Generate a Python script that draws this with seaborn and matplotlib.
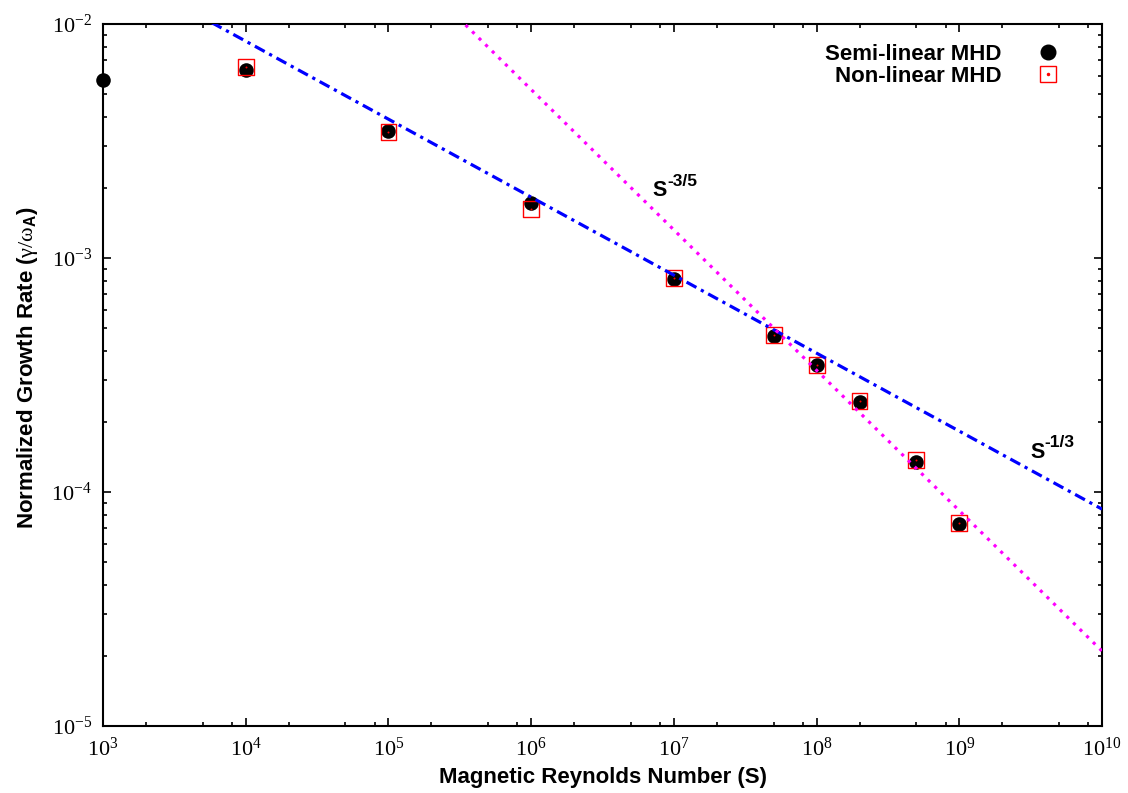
import matplotlib
matplotlib.use('Agg')
import matplotlib.pyplot as plt
import matplotlib.ticker as mticker
from matplotlib.lines import Line2D
from matplotlib.legend_handler import HandlerTuple
import numpy as np
import pandas as pd
import seaborn as sns

# semi-linear MHD runs
semi_S = [1e3, 1e4, 1e5, 1e6, 1e7, 5e7, 1e8, 2e8, 5e8, 1e9]
semi_rate = [5.77e-3, 6.35e-3, 3.49e-3, 1.72e-3, 8.13e-4, 4.64e-4, 3.49e-4, 2.43e-4, 1.34e-4, 7.3e-5]

# non-linear MHD runs
nonlin_S = [1e4, 1e5, 1e6, 1e7, 5e7, 1e8, 2e8, 5e8, 1e9]
nonlin_rate = [6.54e-3, 3.45e-3, 1.62e-3, 8.2e-4, 4.68e-4, 3.49e-4, 2.45e-4, 1.37e-4, 7.35e-5]

# scaling laws  rate = coef * S**expo
fit_coef = [0.182, 20.9]
fit_expo = [-1 / 3, -3 / 5]
fit_sup = ['-1/3', '-3/5']
fit_text_pos = [(3.13e9, 1.40e-4), (7.1e6, 1.84e-3)]

x_decades = [3, 10]
y_decades = [-5, -2]

sns.set_style('ticks')
plt.rcParams['font.family'] = ['Liberation Sans', 'DejaVu Sans']
plt.rcParams['text.color'] = 'black'
plt.rcParams['axes.labelcolor'] = 'black'
plt.rcParams['mathtext.fontset'] = 'custom'
plt.rcParams['mathtext.rm'] = 'Liberation Serif'
plt.rcParams['mathtext.it'] = 'Liberation Serif:italic'
plt.rcParams['mathtext.bf'] = 'Liberation Sans:bold'

fig = plt.figure(figsize=(11.28, 7.93), dpi=100)
ax = fig.add_axes([0.0913, 0.0845, 0.8857, 0.8852])

semi_df = pd.DataFrame({'S': semi_S, 'rate': semi_rate})
nonlin_df = pd.DataFrame({'S': nonlin_S, 'rate': nonlin_rate})

sns.scatterplot(data=semi_df, x='S', y='rate', ax=ax, marker='o', s=110,
                color='black', edgecolor='black', linewidth=0, clip_on=False, zorder=3)
sns.scatterplot(data=nonlin_df, x='S', y='rate', ax=ax, marker='s', s=130,
                facecolor='none', edgecolor='#ff0000', linewidth=1.0, clip_on=False, zorder=4)
sns.scatterplot(data=nonlin_df, x='S', y='rate', ax=ax, marker='o', s=2,
                color='#ff0000', linewidth=0, zorder=4)

S_line = np.logspace(x_decades[0], x_decades[1], 200)
line_styles = [dict(color='#0000ff', dashes=(3.5, 1.6, 1, 1.6)),
               dict(color='#ff00ff', dashes=(1, 1.9))]
for coef, expo, sty in zip(fit_coef, fit_expo, line_styles):
    fit_df = pd.DataFrame({'S': S_line, 'rate': coef * S_line ** expo})
    sns.lineplot(data=fit_df, x='S', y='rate', ax=ax, lw=2.3, zorder=5, **sty)

# S^{...} labels: base letter plus a raised exponent
for sup, (tx, ty) in zip(fit_sup, fit_text_pos):
    ax.text(tx, ty, 'S', fontsize=15.5, fontweight='bold', ha='left', va='baseline')
    ax.annotate(sup, (tx, ty), xytext=(10.5, 7.5), textcoords='offset points',
                fontsize=12.5, fontweight='bold', ha='left', va='baseline')

ax.set_xscale('log')
ax.set_yscale('log')
ax.set_xlim(10.0 ** x_decades[0], 10.0 ** x_decades[1])
ax.set_ylim(10.0 ** y_decades[0], 10.0 ** y_decades[1])

ax.xaxis.set_major_locator(mticker.LogLocator(base=10, numticks=20))
ax.xaxis.set_minor_locator(mticker.LogLocator(base=10, subs=(2, 5, 8), numticks=20))
ax.yaxis.set_major_locator(mticker.LogLocator(base=10, numticks=20))
ax.yaxis.set_minor_locator(mticker.LogLocator(base=10, subs=np.arange(2, 10), numticks=20))
fmt = mticker.FuncFormatter(lambda v, p: r'$\mathrm{10^{%d}}$' % int(round(np.log10(v))))
ax.xaxis.set_major_formatter(fmt)
ax.yaxis.set_major_formatter(fmt)
ax.xaxis.set_minor_formatter(mticker.NullFormatter())
ax.yaxis.set_minor_formatter(mticker.NullFormatter())

ax.tick_params(which='both', direction='in', top=True, right=True, width=1.2,
               colors='black', labelcolor='black')
ax.tick_params(which='major', length=6, labelsize=16, pad=8)
ax.tick_params(which='minor', length=3)
for sp in ax.spines.values():
    sp.set_linewidth(1.5)
    sp.set_color('black')

ax.set_xlabel('Magnetic Reynolds Number (S)', fontsize=16, fontweight='bold', labelpad=5)
ax.set_ylabel(r'Normalized Growth Rate ($\mathrm{\gamma/\omega}_{\mathbf{A}}$)',
              fontsize=16, fontweight='bold', labelpad=8)
ax.yaxis.label.set_y(0.51)

h_semi = Line2D([], [], ls='none', marker='o', ms=10.5, color='black')
h_sq = Line2D([], [], ls='none', marker='s', ms=11.4, mfc='none', mec='#ff0000', mew=1.0)
h_dot = Line2D([], [], ls='none', marker='o', ms=1.5, color='#ff0000')
ax.legend([h_semi, (h_sq, h_dot)], ['Semi-linear MHD', 'Non-linear MHD'],
          handler_map={tuple: HandlerTuple(ndivide=1, pad=0)},
          loc='upper right', bbox_to_anchor=(0.968, 0.972), markerfirst=False,
          frameon=False, prop={'size': 16, 'weight': 'bold'}, handlelength=2,
          handletextpad=1.1, labelspacing=0.05, borderpad=0, borderaxespad=0)

fig.savefig('out.png', dpi=100)
